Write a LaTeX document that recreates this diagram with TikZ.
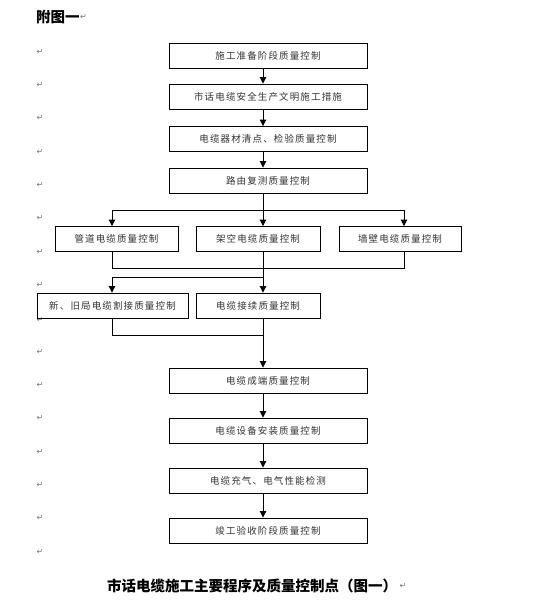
\documentclass[tikz,border=0pt]{standalone}
\usepackage{fontspec}
\usetikzlibrary{arrows.meta}
\newfontfamily\cjk{Noto Sans CJK SC}
\newfontfamily\cjkbox[LetterSpace=12]{Noto Sans CJK SC}
\newfontfamily\dv{DejaVu Sans}
\tikzset{
  box/.style={draw=black, line width=0.9pt, minimum height=25pt, inner sep=0pt,
    font=\cjkbox\fontsize{9.5}{9.5}\selectfont, text=black!80},
  conn/.style={line width=0.9pt},
  arr/.style={conn, -{Triangle[length=6.5pt,width=6.5pt]}},
  pmark/.style={font=\dv\fontsize{8}{8}\selectfont, text=black!55, inner sep=0pt},
}
\begin{document}
\begin{tikzpicture}[x=1pt,y=-1pt]
\useasboundingbox[fill=white] (0,0) rectangle (533,602);
% title
\node[anchor=west, inner sep=0pt, font=\cjk\bfseries\fontsize{14.5}{14.5}\selectfont] (title) at (36,17) {附图一};
\node[pmark, anchor=west] (tm) at (title.east) {↵};
% paragraph marks
\foreach \yy [count=\i] in {52,85,118,152,185,218,252,285,320,352,385,418,452,485,518,552}
  \node[pmark] (pm\i) at (40,\yy) {↵};
% spine coordinates
\coordinate (sx) at (263,0);
\coordinate (lx) at (112,0);
\coordinate (rx) at (404,0);
% boxes
\node[box, minimum width=198pt] (b1) at (268,55.5) {施工准备阶段质量控制};
\node[box, minimum width=198pt] (b2) at (268,96.5) {市话电缆安全生产文明施工措施};
\node[box, minimum width=198pt] (b3) at (268,139) {电缆器材清点、检验质量控制};
\node[box, minimum width=198pt] (b4) at (268,180.5) {路由复测质量控制};
\node[box, minimum width=123pt] (b5l) at (116.5,239) {管道电缆质量控制};
\node[box, minimum width=124pt] (b5m) at (258,239) {架空电缆质量控制};
\node[box, minimum width=122pt] (b5r) at (400,239) {墙壁电缆质量控制};
\node[box, minimum width=151pt] (b6l) at (112.5,305.5) {新、旧局电缆割接质量控制};
\node[box, minimum width=124pt] (b6m) at (258,305.5) {电缆接续质量控制};
\node[box, minimum width=198pt] (b7) at (268,380.5) {电缆成端质量控制};
\node[box, minimum width=198pt] (b8) at (268,430.5) {电缆设备安装质量控制};
\node[box, minimum width=198pt] (b9) at (268,480.5) {电缆充气、电气性能检测};
\node[box, minimum width=198pt] (b10) at (268,530.5) {竣工验收阶段质量控制};
% junctions
\coordinate (split1) at (263,210);
\coordinate (merge1) at (263,268);
\coordinate (split2) at (263,277);
\coordinate (merge2) at (263,335);
% connectors
\draw[arr] (b1.south -| sx) -- (b2.north -| sx);
\draw[arr] (b2.south -| sx) -- (b3.north -| sx);
\draw[arr] (b3.south -| sx) -- (b4.north -| sx);
\draw[conn] (b4.south -| sx) -- (split1);
\draw[arr] (split1) -- (b5m.north -| sx);
\draw[arr] (split1) -| (b5l.north -| lx);
\draw[arr] (split1) -| (b5r.north -| rx);
\draw[conn] (b5l.south -| lx) |- (merge1);
\draw[conn] (b5r.south -| rx) |- (merge1);
\draw[conn] (b5m.south -| sx) -- (split2);
\draw[arr] (split2) -- (b6m.north -| sx);
\draw[arr] (split2) -| (b6l.north -| lx);
\draw[conn] (b6l.south -| lx) |- (merge2);
\draw[arr] (b6m.south -| sx) -- (b7.north -| sx);
\draw[arr] (b7.south -| sx) -- (b8.north -| sx);
\draw[arr] (b8.south -| sx) -- (b9.north -| sx);
\draw[arr] (b9.south -| sx) -- (b10.north -| sx);
% caption
\node[anchor=west, inner sep=0pt, font=\cjk\bfseries\fontsize{14.5}{14.5}\selectfont] (cap) at (107,586) {市话电缆施工主要程序及质量控制点（图一）};
\node[pmark, anchor=west] (cm) at ([xshift=2pt]cap.east) {↵};
\end{tikzpicture}
\end{document}
